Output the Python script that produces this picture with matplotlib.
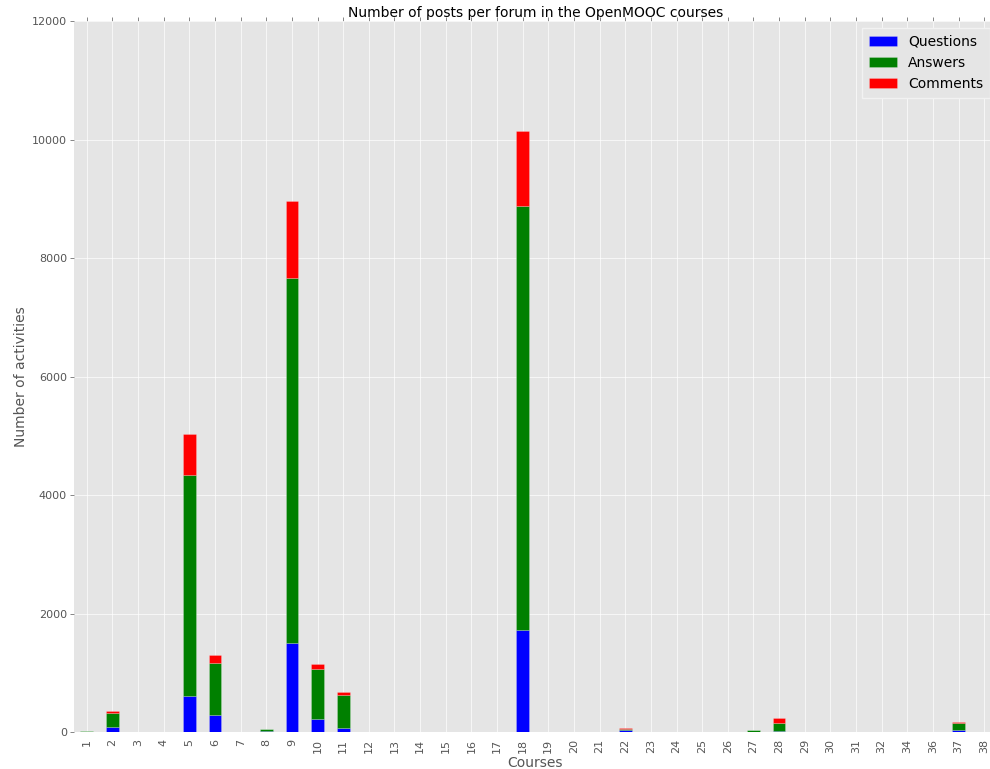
import matplotlib
matplotlib.use("Agg")
import matplotlib.pyplot as plt
import numpy as np

courses = [str(i) for i in range(1, 33)] + ["34", "36", "37", "38"]

questions = [0, 80, 5, 0, 615, 282, 5, 15, 1510, 214,
             62, 5, 0, 0, 0, 5, 0, 1721, 0, 0,
             0, 28, 0, 0, 0, 0, 3, 22, 0, 0,
             4, 4, 4, 0, 35, 4]
answers = [20, 246, 0, 0, 3725, 877, 0, 35, 6152, 855,
           568, 0, 0, 0, 0, 0, 0, 7157, 0, 0,
           0, 22, 0, 0, 0, 5, 25, 124, 0, 8,
           0, 0, 0, 4, 122, 0]
comments = [0, 34, 0, 0, 690, 135, 0, 2, 1300, 73,
            51, 0, 0, 0, 0, 0, 0, 1265, 0, 0,
            0, 22, 0, 0, 0, 0, 2, 84, 0, 0,
            0, 0, 0, 0, 20, 0]

grey = "#555555"
fig = plt.figure(figsize=(9.9, 7.69), dpi=100)
ax = fig.add_axes([74 / 990, 37 / 769, 923 / 990, 711 / 769])
ax.set_facecolor("#E5E5E5")
for s in ax.spines.values():
    s.set_visible(False)
ax.set_axisbelow(True)
ax.grid(True, color="white", linewidth=0.6, alpha=0.8)

x = np.arange(len(courses))
q = np.array(questions)
a = np.array(answers)
c = np.array(comments)
kw = dict(width=0.5, edgecolor=(1, 1, 1, 0.35), linewidth=0.4)
ax.bar(x, q, color="blue", label="Questions", **kw)
ax.bar(x, a, bottom=q, color="green", label="Answers", **kw)
ax.bar(x, c, bottom=q + a, color="red", label="Comments", **kw)

ax.set_xlim(-0.5, len(courses) - 0.5)
ax.set_ylim(0, 12000)
ax.set_xticks(x)
ax.set_xticklabels(courses, rotation=90)
ax.set_yticks(np.arange(0, 12001, 2000))
ax.tick_params(axis="both", labelsize=8, colors=grey, direction="out",
               length=3, width=0.5, labelcolor=grey)
ax.tick_params(axis="x", top=True, bottom=False, pad=2)
ax.tick_params(axis="y", pad=2)

ax.set_title("Number of posts per forum in the OpenMOOC courses",
             fontsize=10, pad=3)
ax.set_xlabel("Courses", fontsize=10, color=grey, labelpad=2)
ax.set_ylabel("Number of activities", fontsize=10, color=grey, labelpad=3)

leg = ax.legend(loc="upper right", fontsize=10, facecolor="#E5E5E5",
                edgecolor="#F2F2F2", framealpha=1, fancybox=False,
                handlelength=2.0, borderpad=0.5)

fig.savefig("out.png", dpi=100)
